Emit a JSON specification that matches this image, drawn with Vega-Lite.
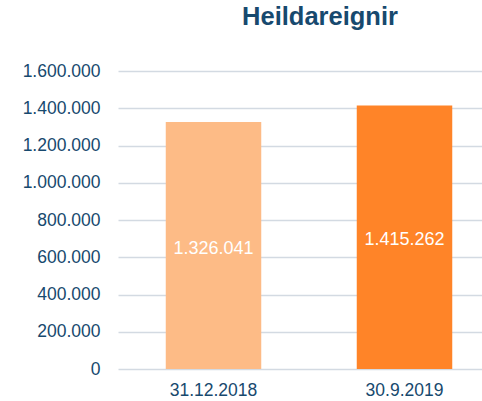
{
  "$schema": "https://vega.github.io/schema/vega-lite/v6.json",
  "autosize": "none",
  "width": 364,
  "height": 298,
  "padding": {"left": 118, "top": 71, "right": 0, "bottom": 32},
  "background": "white",
  "config": {"view": {"stroke": null}, "font": "Liberation Sans"},
  "title": {"text": "Heildareignir", "fontSize": 25.5, "fontWeight": "bold", "color": "#17496E", "font": "Liberation Sans", "anchor": "middle", "dx": 20, "offset": 32},
  "data": {"values": [
    {"date": "31.12.2018", "value": 1326041, "label": "1.326.041", "c": "a"},
    {"date": "30.9.2019", "value": 1415262, "label": "1.415.262", "c": "b"}
  ]},
  "encoding": {
    "x": {"field": "date", "type": "nominal", "sort": null,
      "scale": {"range": [0, 382], "paddingInner": 0.5, "paddingOuter": 0.25},
      "axis": {"title": null, "labelAngle": 0, "domain": false, "ticks": false, "labelFontSize": 17.5, "labelColor": "#17496E", "labelPadding": 12, "labelFont": "Liberation Sans"}}
  },
  "layer": [
    {"mark": {"type": "bar"},
     "encoding": {
       "y": {"field": "value", "type": "quantitative", "scale": {"domain": [0, 1600000]},
         "axis": {"title": null, "values": [0, 200000, 400000, 600000, 800000, 1000000, 1200000, 1400000, 1600000], "format": ",d", "labelExpr": "replace(datum.label, /,/g, '.')", "labelOverlap": false, "labelBound": false, "domain": false, "ticks": false, "labelFontSize": 17.5, "labelColor": "#17496E", "labelPadding": 18, "gridColor": "#D3DAE2", "gridWidth": 1.5, "labelFont": "Liberation Sans"}},
       "color": {"field": "c", "type": "nominal", "scale": {"domain": ["a", "b"], "range": ["#FDBB86", "#FF8428"]}, "legend": null}
     }},
    {"transform": [{"calculate": "datum.value / 2", "as": "mid"}],
     "mark": {"type": "text", "color": "white", "fontSize": 18, "font": "Liberation Sans", "baseline": "middle", "dy": 3},
     "encoding": {
       "y": {"field": "mid", "type": "quantitative", "axis": {"title": null, "values": [0, 200000, 400000, 600000, 800000, 1000000, 1200000, 1400000, 1600000], "labelOverlap": false}},
       "text": {"field": "label"}
     }}
  ]
}
